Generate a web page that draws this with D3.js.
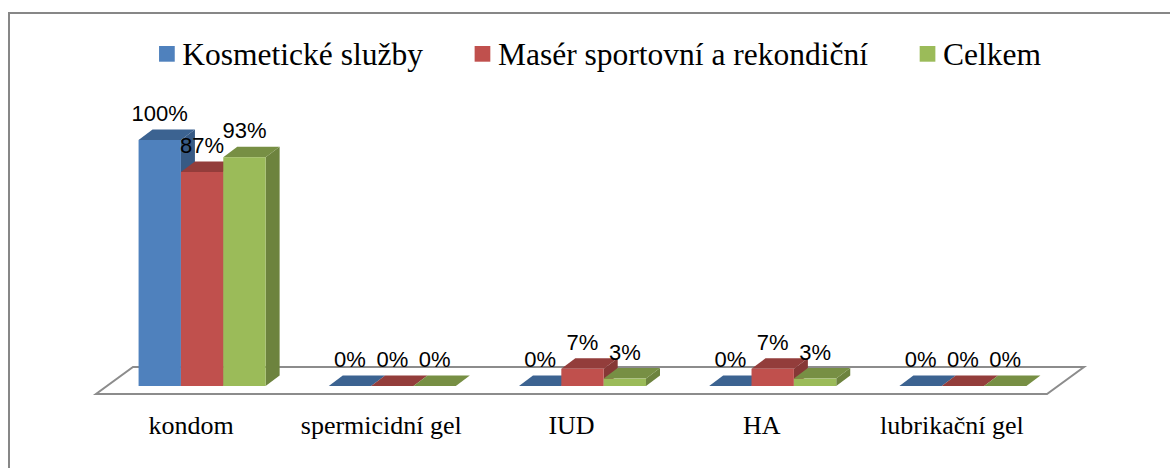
<!DOCTYPE html>
<html><head><meta charset="utf-8">
<script src="https://cdn.jsdelivr.net/npm/d3@7"></script>
<style>body{margin:0;background:#fff;}svg{display:block;}
.serif{font-family:"Liberation Serif","Times New Roman",serif;}
.sans{font-family:"Liberation Sans",Arial,sans-serif;}
</style>
</head><body>
<svg id="c" width="1170" height="468"></svg>
<script>
const categories = ["kondom", "spermicidní gel", "IUD", "HA", "lubrikační gel"];
const seriesNames = ["Kosmetické služby", "Masér sportovní a rekondiční", "Celkem"];
const kosmeticke = [100, 0, 0, 0, 0];
const maser = [87, 0, 7, 7, 0];
const celkem = [93, 0, 3, 3, 0];
const colors = ["#4F81BD", "#C0504D", "#9BBB59"];
const seriesValues = [kosmeticke, maser, celkem];

const svg = d3.select("#c");
svg.append("rect").attr("x", 9).attr("y", 13).attr("width", 1300).attr("height", 600)
  .attr("fill", "#fff").attr("stroke", "#878787").attr("stroke-width", 2);

// geometry
const floorFrontY = 394, floorDX = 37, floorDY = -27;
const barShiftX = 11, barShiftY = -8;   // bars sit mid-depth on the floor
const barDX = 14, barDY = -10.5;
const x = d3.scaleBand().domain(categories).range([96, 1047]).paddingInner(0.332).paddingOuter(0.166);
const xs = d3.scaleBand().domain(seriesNames).range([0, x.bandwidth()]).padding(0);
const y = d3.scaleLinear().domain([0, 100]).range([floorFrontY + barShiftY, 140]);

// floor
const fx0 = x.range()[0], fx1 = x.range()[1];
svg.append("path")
  .attr("d", `M${fx0},${floorFrontY}L${fx1},${floorFrontY}L${fx1 + floorDX},${floorFrontY + floorDY}L${fx0 + floorDX},${floorFrontY + floorDY}Z`)
  .attr("fill", "none").attr("stroke", "#8c8c8c").attr("stroke-width", 2);

// bars
const g = svg.append("g");
categories.forEach((cat, ci) => {
  seriesNames.forEach((s, si) => {
    const v = seriesValues[si][ci];
    const x0 = x(cat) + xs(s) + barShiftX, w = xs.bandwidth();
    const yb = y(0), yt = y(v);
    const c = d3.color(colors[si]);
    const side = c.darker(1).formatHex();
    const top = c.darker(0.75).formatHex();
    g.append("path")
      .attr("d", `M${x0 + w},${yb}L${x0 + w + barDX},${yb + barDY}L${x0 + w + barDX},${yt + barDY}L${x0 + w},${yt}Z`)
      .attr("fill", side);
    g.append("path")
      .attr("d", `M${x0},${yt}L${x0 + w},${yt}L${x0 + w + barDX},${yt + barDY}L${x0 + barDX},${yt + barDY}Z`)
      .attr("fill", top);
    if (yb - yt > 0) {
      g.append("rect").attr("x", x0).attr("y", yt).attr("width", w).attr("height", yb - yt).attr("fill", colors[si]);
    }
  });
});
// labels
categories.forEach((cat, ci) => {
  seriesNames.forEach((s, si) => {
    const v = seriesValues[si][ci];
    const x0 = x(cat) + xs(s) + barShiftX, w = xs.bandwidth();
    svg.append("text").attr("class", "sans").attr("x", x0 + w / 2).attr("y", y(v) - 19)
      .attr("text-anchor", "middle")
      .attr("font-size", 22).attr("fill", "#000").text(v + "%");
  });
});

// category axis labels
const bandStep = (fx1 - fx0) / categories.length;
categories.forEach((cat, ci) => {
  svg.append("text").attr("class", "serif").attr("x", fx0 + bandStep * (ci + 0.5)).attr("y", 434)
    .attr("text-anchor", "middle")
    .attr("font-size", 26).attr("fill", "#000").text(cat);
});

// legend
const lg = svg.append("g");
let lx = 0;
seriesNames.forEach((s, i) => {
  const it = lg.append("g");
  it.append("rect").attr("x", 0).attr("y", -19).attr("width", 15.7).attr("height", 15.7).attr("fill", colors[i]);
  const t = it.append("text").attr("class", "serif").attr("x", 23.3).attr("y", 0)
    .attr("font-size", 31.5).attr("fill", "#000").text(s);
  const tw = t.node().getComputedTextLength();
  it.attr("transform", `translate(${lx},0)`);
  lx += 23.3 + tw + 51.7;
});
const totalW = lx - 51.7;
lg.attr("transform", `translate(${600 - totalW / 2},65)`);
</script>
</body></html>
